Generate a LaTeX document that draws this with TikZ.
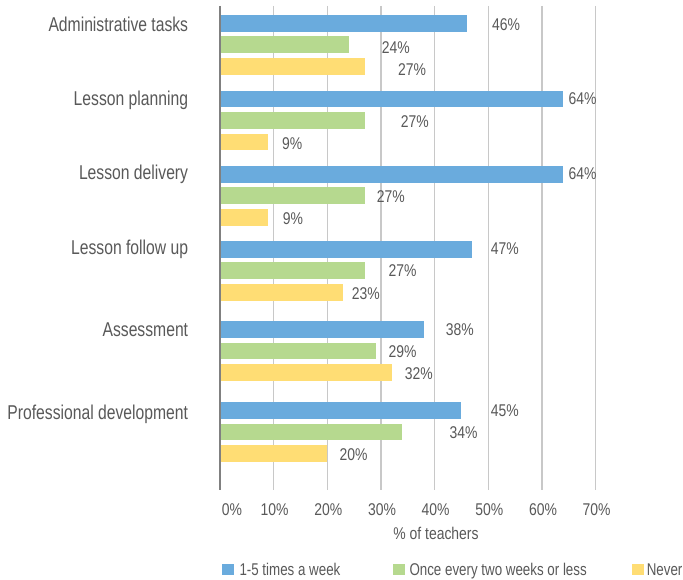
\documentclass[tikz,border=0pt]{standalone}
\usepackage{fontspec}
\setmainfont{Liberation Sans}[FakeStretch=0.82]
\newfontfamily\catfont{Liberation Sans}[FakeStretch=0.785]
\definecolor{cblue}{HTML}{6AABDD}
\definecolor{cgreen}{HTML}{B6D98F}
\definecolor{cyellow}{HTML}{FFDD74}
\definecolor{cgrid}{HTML}{C8C8C8}
\definecolor{caxis}{HTML}{808080}
\definecolor{ctext}{HTML}{595959}
\tikzset{
  gridline/.style={draw=cgrid, line width=1.2pt},
  axisline/.style={draw=caxis, line width=1.6pt},
  bar/.style={inner sep=0, outer sep=0, minimum height=16.7pt, anchor=north west, draw=none},
  cat/.style={anchor=base east, inner sep=0, text=ctext, font=\catfont\fontsize{20}{20}\selectfont},
  val/.style={anchor=base west, inner sep=0, text=ctext, font=\fontsize{17}{17}\selectfont},
  tick/.style={anchor=base, inner sep=0, text=ctext, font=\fontsize{17}{17}\selectfont},
  legtext/.style={anchor=base west, inner sep=0, text=ctext, font=\catfont\fontsize{17}{17}\selectfont},
  legbox/.style={inner sep=0, minimum size=11.7pt, anchor=north west, draw=none}
}
\begin{document}
\begin{tikzpicture}[x=1pt, y=-1pt]
\useasboundingbox[fill=white] (0,0) rectangle (683,580);
% grid
\foreach \k in {1,...,7} {
  \draw[gridline] ({220+53.66*\k},6) -- ({220+53.66*\k},490);
}
% bars
\foreach \i/\t/\a/\b/\c in {1/15/46/24/27, 2/90.7/64/27/9, 3/166/64/27/9, 4/241/47/27/23, 5/321/38/29/32, 6/402/45/34/20} {
  \node[bar, fill=cblue, minimum width={5.366*\a*1pt}] (blue\i) at (220,\t) {};
  \node[bar, fill=cgreen, minimum width={5.366*\b*1pt}] (green\i) at (220,{\t+21.5}) {};
  \node[bar, fill=cyellow, minimum width={5.366*\c*1pt}] (yellow\i) at (220,{\t+43}) {};
}
% axis
\draw[axisline] (220,6) -- (220,490);
% category labels
\node[cat] (c1) at (188.3,31.5) {Administrative tasks};
\node[cat] (c2) at (188.3,106) {Lesson planning};
\node[cat] (c3) at (188.3,179.3) {Lesson delivery};
\node[cat] (c4) at (188.3,254.3) {Lesson follow up};
\node[cat] (c5) at (188.3,336.3) {Assessment};
\node[cat] (c6) at (188.3,419) {Professional development};
% value labels
\node[val] (v1a) at (492,30.4) {46\%};
\node[val] (v1b) at (381.7,53.1) {24\%};
\node[val] (v1c) at (398,75.4) {27\%};
\node[val] (v2a) at (568.3,104.7) {64\%};
\node[val] (v2b) at (400.7,127.1) {27\%};
\node[val] (v2c) at (282,149.7) {9\%};
\node[val] (v3a) at (568.3,179.1) {64\%};
\node[val] (v3b) at (376.7,202.4) {27\%};
\node[val] (v3c) at (282.7,224.7) {9\%};
\node[val] (v4a) at (490.7,254.7) {47\%};
\node[val] (v4b) at (388.3,276.4) {27\%};
\node[val] (v4c) at (351.7,299.7) {23\%};
\node[val] (v5a) at (445.7,335.4) {38\%};
\node[val] (v5b) at (388.3,357.1) {29\%};
\node[val] (v5c) at (404.7,379.7) {32\%};
\node[val] (v6a) at (490.7,416.4) {45\%};
\node[val] (v6b) at (449.3,438.1) {34\%};
\node[val] (v6c) at (339.3,460.4) {20\%};
% tick labels
\node[anchor=base west, inner sep=0, text=ctext, font=\fontsize{17}{17}\selectfont] (t0) at (221.7,515.7) {0\%};
\foreach \k in {1,...,7} {
  \node[tick] (t\k) at ({221+53.66*\k},515.7) {\k0\%};
}
\node[tick] (xlab) at (436,539.5) {\% of teachers};
% legend
\node[legbox, fill=cblue] (lb1) at (221.7,563.3) {};
\node[legtext] (lt1) at (239.3,575) {1-5 times a week};
\node[legbox, fill=cgreen] (lb2) at (392.7,563.3) {};
\node[legtext] (lt2) at (409.3,575) {Once every two weeks or less};
\node[legbox, fill=cyellow] (lb3) at (631.7,563.3) {};
\node[legtext] (lt3) at (646.6,575) {Never};
\end{tikzpicture}
\end{document}
